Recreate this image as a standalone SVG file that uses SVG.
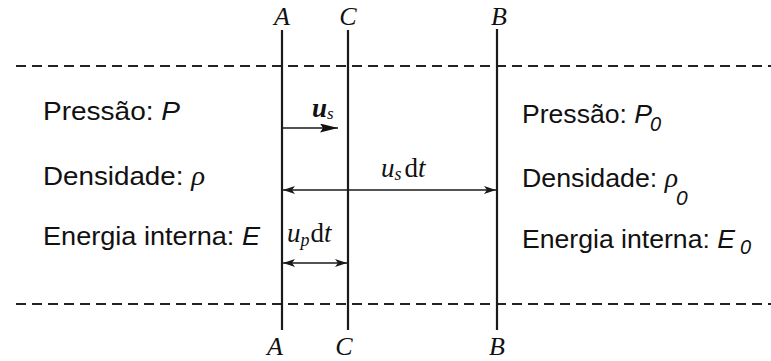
<svg xmlns="http://www.w3.org/2000/svg" width="771" height="361" viewBox="0 0 771 361">
<style>
.dash{stroke:#222;stroke-width:2;stroke-dasharray:10 6;fill:none}
.wall{stroke:#1a1a1a;stroke-width:2.2;fill:none}
.dim{stroke:#1a1a1a;stroke-width:1.5;fill:none}
.sans{font-family:"Liberation Sans",Arial,sans-serif;font-size:26px;fill:#111}
.sub{font-family:"Liberation Sans",Arial,sans-serif;font-style:italic;fill:#111}
.ser{font-family:"Liberation Serif","Times New Roman",serif;fill:#111}
.it{font-style:italic}
.lab{font-family:"Liberation Serif","Times New Roman",serif;font-style:italic;font-size:26px;fill:#111;text-anchor:middle}
</style>
<defs>
<marker id="dimhead" viewBox="0 0 12 8" refX="12" refY="4" markerWidth="12" markerHeight="8" markerUnits="userSpaceOnUse" orient="auto-start-reverse">
<path d="M0,0 L12,4 L0,8 L3,4 Z" fill="#1a1a1a"/>
</marker>
<marker id="bighead" viewBox="0 0 18 9" refX="18" refY="4.5" markerWidth="18" markerHeight="9" markerUnits="userSpaceOnUse" orient="auto">
<path d="M0,0 L18,4.5 L0,9 L3,4.5 Z" fill="#111"/>
</marker>
</defs>
<g id="boundaries">
<line class="dash" x1="16" y1="66" x2="771" y2="66"/>
<line class="dash" x1="16" y1="304" x2="771" y2="304"/>
</g>
<g id="plane-A">
<line class="wall" x1="282" y1="30" x2="282" y2="330"/>
<text class="lab" x="282" y="25">A</text>
<text class="lab" x="275" y="355">A</text>
</g>
<g id="plane-C">
<line class="wall" x1="348" y1="30" x2="348" y2="330"/>
<text class="lab" x="348" y="25">C</text>
<text class="lab" x="344" y="355">C</text>
</g>
<g id="plane-B">
<line class="wall" x1="497" y1="29" x2="497" y2="330"/>
<text class="lab" x="499" y="25">B</text>
<text class="lab" x="497" y="355">B</text>
</g>
<g id="connectors">
<line class="dim" x1="283" y1="128" x2="338" y2="128" stroke-width="2.4" marker-end="url(#bighead)"/>
<line class="dim" x1="283" y1="190" x2="496" y2="190" marker-start="url(#dimhead)" marker-end="url(#dimhead)"/>
<line class="dim" x1="283" y1="263" x2="347" y2="263" marker-start="url(#dimhead)" marker-end="url(#dimhead)"/>
</g>
<g id="arrow-labels">
<text class="ser" x="312" y="117" font-size="27"><tspan font-weight="bold" font-style="italic">u</tspan><tspan font-style="italic" font-size="17" dy="2">s</tspan></text>
<text class="ser" x="381" y="177" font-size="27"><tspan font-style="italic">u</tspan><tspan font-style="italic" font-size="18" dy="3">s</tspan><tspan dy="-3" dx="3">d</tspan><tspan font-style="italic">t</tspan></text>
<text class="ser" x="287" y="242" font-size="27"><tspan font-style="italic">u</tspan><tspan font-style="italic" font-size="18" dy="4">p</tspan><tspan dy="-4" dx="1">d</tspan><tspan font-style="italic">t</tspan></text>
</g>
<g id="state-left">
<text class="sans" x="43" y="120" textLength="137" lengthAdjust="spacingAndGlyphs">Pressão: <tspan class="it">P</tspan></text>
<text class="sans" x="43" y="185" textLength="162" lengthAdjust="spacingAndGlyphs">Densidade: <tspan class="ser it" font-size="27">ρ</tspan></text>
<text class="sans" x="43" y="245" textLength="217" lengthAdjust="spacingAndGlyphs">Energia interna: <tspan class="it">E</tspan></text>
</g>
<g id="state-right">
<text class="sans" x="522" y="123" textLength="130" lengthAdjust="spacingAndGlyphs">Pressão: <tspan class="it">P</tspan></text>
<text class="sub" x="650" y="131" font-size="20">0</text>
<text class="sans" x="522" y="187" textLength="156" lengthAdjust="spacingAndGlyphs">Densidade: <tspan class="ser it" font-size="27">ρ</tspan></text>
<text class="sub" x="676" y="205" font-size="21">0</text>
<text class="sans" x="522" y="248" textLength="213" lengthAdjust="spacingAndGlyphs">Energia interna: <tspan class="it">E</tspan></text>
<text class="sub" x="740" y="254" font-size="20">0</text>
</g>
</svg>
